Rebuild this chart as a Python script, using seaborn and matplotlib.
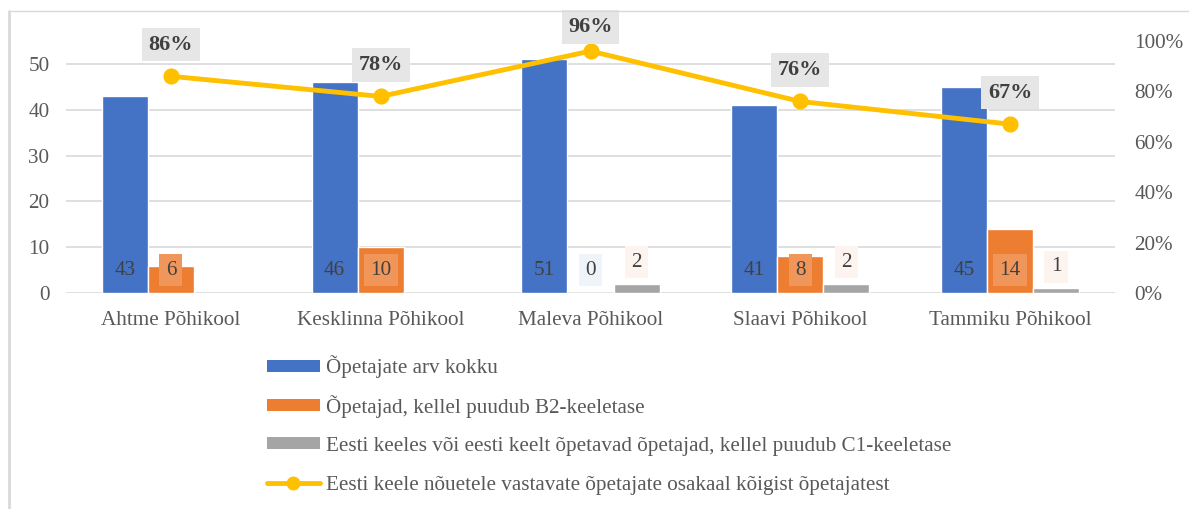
import matplotlib
matplotlib.use("Agg")
import matplotlib.pyplot as plt
import seaborn as sns
import numpy as np
import pandas as pd
from matplotlib.patches import Patch
from matplotlib.lines import Line2D
from matplotlib.ticker import PercentFormatter

schools = ["Ahtme Põhikool", "Kesklinna Põhikool", "Maleva Põhikool", "Slaavi Põhikool", "Tammiku Põhikool"]
total = [43, 46, 51, 41, 45]
no_b2 = [6, 10, 0, 8, 14]
no_c1 = [np.nan, np.nan, 2, 2, 1]
share = [0.86, 0.78, 0.96, 0.76, 0.67]
series_names = [
    "Õpetajate arv kokku",
    "Õpetajad, kellel puudub B2-keeletase",
    "Eesti keeles või eesti keelt õpetavad õpetajad, kellel puudub C1-keeletase",
]
line_name = "Eesti keele nõuetele vastavate õpetajate osakaal kõigist õpetajatest"
left_ticks = [0, 10, 20, 30, 40, 50]
right_ticks = [0, 0.2, 0.4, 0.6, 0.8, 1.0]

colors = ["#4472C4", "#ED7D31", "#A5A5A5"]
line_color = "#FFC000"
text_color = "#404040"
tick_color = "#595959"
grid_color = "#D9D9D9"
FS = 15.2

sns.set_theme(style="white")
plt.rcParams["font.family"] = ["Liberation Serif", "DejaVu Serif"]

df = pd.DataFrame({
    "school": schools * 3,
    "series": [series_names[0]] * 5 + [series_names[1]] * 5 + [series_names[2]] * 5,
    "value": total + no_b2 + no_c1,
})

W, H = 1189, 509
fig = plt.figure(figsize=(W / 100, H / 100), dpi=100)
# chart-area border (top and left edges visible)
fig.add_artist(Line2D([9 / W, 1], [1 - 11 / H, 1 - 11 / H], transform=fig.transFigure,
                      color=grid_color, linewidth=1.0))
fig.add_artist(Line2D([9 / W, 9 / W], [0, 1 - 11 / H], transform=fig.transFigure,
                      color=grid_color, linewidth=2.0))

ax = fig.add_axes([66 / W, 1 - 293 / H, (1115 - 66) / W, (293 - 41) / H])

sns.barplot(data=df, x="school", y="value", hue="series", hue_order=series_names,
            order=schools, palette=colors, saturation=1, width=0.658, ax=ax,
            legend=False, zorder=2)
ax.set_ylim(0, 55)
ax.set_yticks(left_ticks)
ax.set_xlabel("")
ax.set_ylabel("")
ax.grid(axis="y", color=grid_color, linewidth=1.2, zorder=0)
ax.set_axisbelow(True)
for s in ax.spines.values():
    s.set_visible(False)
ax.tick_params(axis="both", length=0, labelsize=FS, colors=tick_color)
ax.tick_params(axis="x", pad=13)
ax.tick_params(axis="y", pad=12)

# value labels
for k, cont in enumerate(ax.containers):
    for bar in cont:
        h = bar.get_height()
        if h is None or np.isnan(h):
            continue
        xc = bar.get_x() + bar.get_width() / 2
        if k == 2:
            y0, off = h, 15.5
            fc = "#FDF3EF"
        elif k == 1:
            y0, off = 0, 16.5
            fc = "#EFF4FA" if h == 0 else "#F1965A"
        else:
            y0, off = 0, 16.5
            fc = None
        bbox = None if fc is None else dict(boxstyle="square,pad=0.3", fc=fc, ec="none")
        ax.annotate(f"{int(h)}", (xc, y0), xytext=(0, off), textcoords="offset points",
                    ha="center", va="center", fontsize=FS, color=text_color,
                    bbox=bbox, zorder=5)

ax2 = ax.twinx()
sns.pointplot(x=schools, y=share, ax=ax2, color=line_color, markers="o",
              errorbar=None, markersize=9, linewidth=3.5)
ax2.set_ylim(0, 1.0)
ax2.set_yticks(right_ticks)
ax2.yaxis.set_major_formatter(PercentFormatter(1.0, decimals=0))
ax2.set_xlabel("")
ax2.set_ylabel("")
ax2.grid(False)
for s in ax2.spines.values():
    s.set_visible(False)
ax2.tick_params(axis="both", length=0, labelsize=FS, colors=tick_color)
ax2.tick_params(axis="y", pad=14)
ax.set_xlim(-0.5, 4.5)

# percentage labels above markers, kept inside the chart area
fig.canvas.draw()
for i, p in enumerate(share):
    px_y = ax2.transData.transform((i, p))[1]
    off_px = min(31.5, (H - 27) - px_y)
    ax2.annotate(f"{int(round(p * 100))}%", (i, p), xytext=(0, off_px * 0.72),
                 textcoords="offset points", ha="center", va="center",
                 fontsize=16, fontweight="bold", color=text_color,
                 bbox=dict(boxstyle="square,pad=0.3", fc="#E7E6E6", ec="none"), zorder=6)

# legend: one row per entry, evenly spaced
handles = [Patch(facecolor=c, edgecolor="none") for c in colors]
handles.append(Line2D([0], [0], color=line_color, linewidth=3.5, marker="o", markersize=9))
labels = series_names + [line_name]
row_y = [367, 406.5, 446, 485.5]
for hdl, lab, yy in zip(handles, labels, row_y):
    fig.legend([hdl], [lab], loc="center left",
               bbox_to_anchor=(267 / W, 1 - yy / H), frameon=False,
               fontsize=FS, handlelength=2.5, handleheight=0.5, handletextpad=0.3,
               borderaxespad=0, borderpad=0, labelcolor=tick_color)

fig.savefig("out.png", dpi=100)
